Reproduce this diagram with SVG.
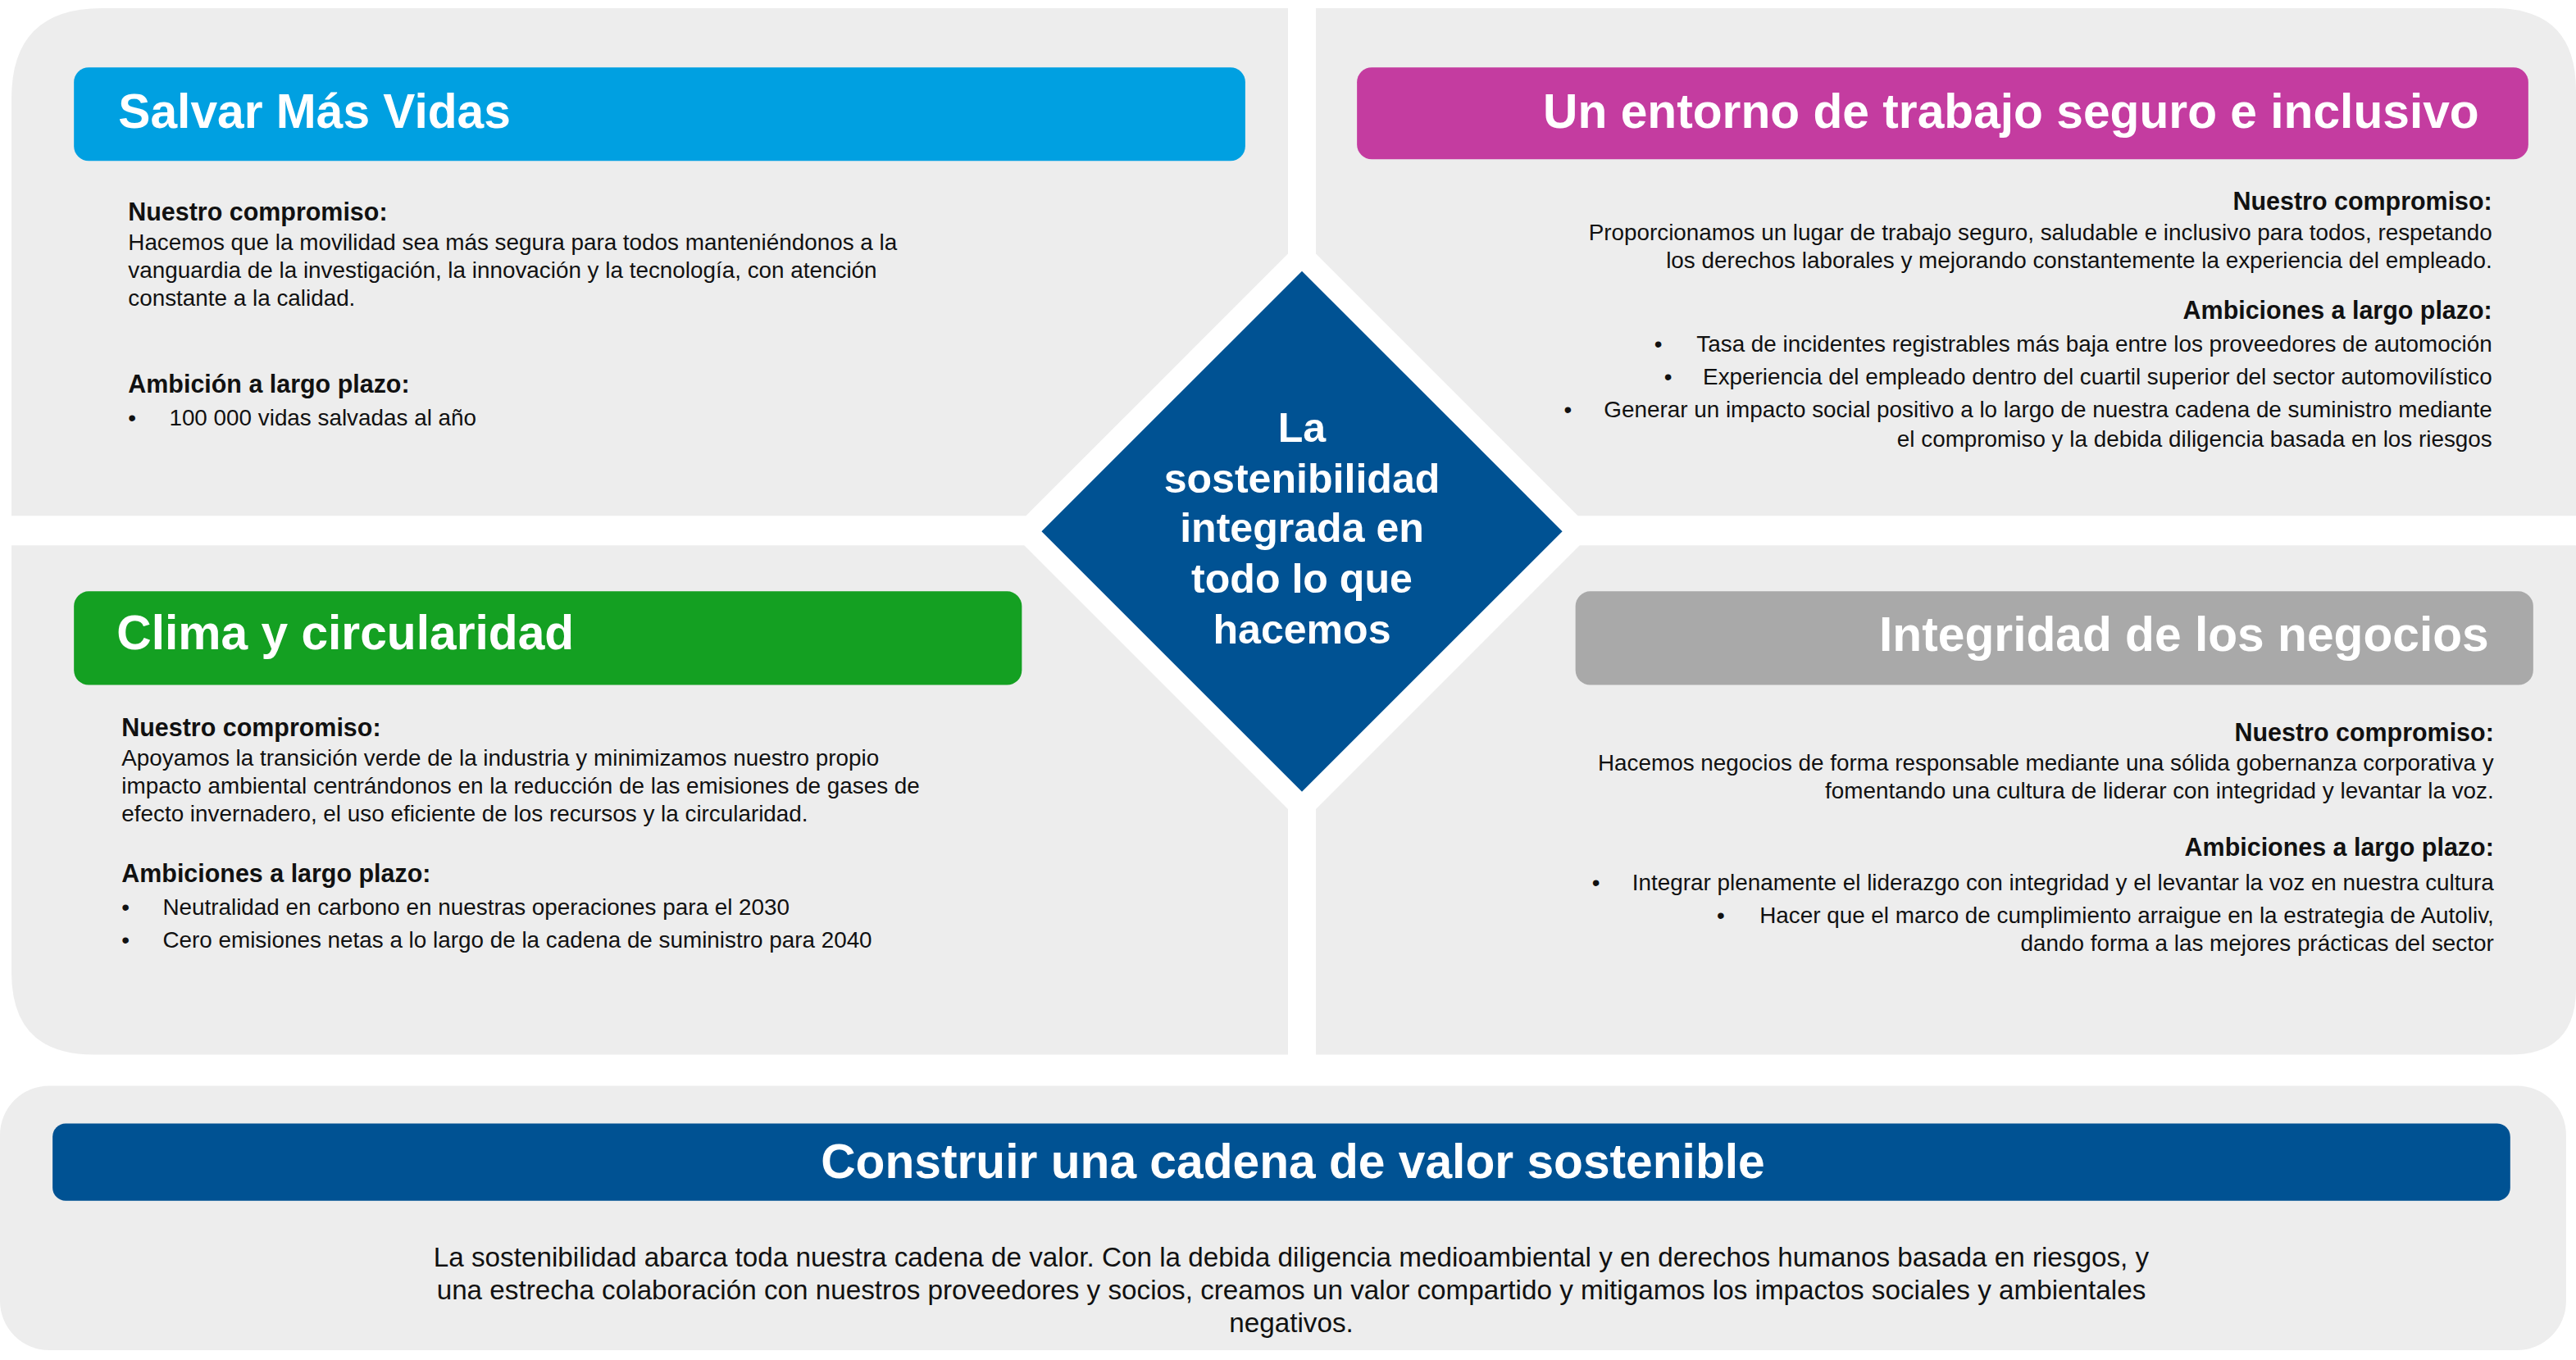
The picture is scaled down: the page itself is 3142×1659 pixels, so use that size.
<svg xmlns="http://www.w3.org/2000/svg" width="3142" height="1659" viewBox="0 0 3142 1659">
<style>
text{font-family:"Liberation Sans",Arial,sans-serif;}
.panel{fill:#ededed;}
.h{font-size:29.3px;font-weight:bold;fill:#fff;}
.b{font-size:13.9px;fill:#111;}
.bb{font-size:15.2px;font-weight:bold;fill:#111;}
.r{text-anchor:end;}
.c{font-size:25px;font-weight:bold;fill:#fff;text-anchor:middle;}
</style>
<rect width="3142" height="1659" fill="#fff"/>
<g transform="scale(2.0038)">
<g id="panels">
<path class="panel" d="M7,60 Q7,5 62,5 H784 V314 H7 Z"/>
<path class="panel" d="M801,5 H1518 Q1568,5 1568,55 V314 H801 Z"/>
<path class="panel" d="M7,332 H784 V642 H57 Q7,642 7,592 Z"/>
<path class="panel" d="M801,332 H1568 V602 Q1568,642 1528,642 H801 Z"/>
<polygon fill="#fff" points="792.5,146 970,323.5 792.5,501 615,323.5"/>
</g>
<g id="center">
<polygon fill="#005293" points="792.5,165 951,323.5 792.5,482 634,323.5"/>
<text class="c" x="792.5" y="269">La</text>
<text class="c" x="792.5" y="300">sostenibilidad</text>
<text class="c" x="792.5" y="330">integrada en</text>
<text class="c" x="792.5" y="361">todo lo que</text>
<text class="c" x="792.5" y="392">hacemos</text>
</g>
<g id="salvar">
<rect x="45" y="41" width="713" height="57" rx="9" fill="#00a0e1"/>
<text class="h" x="72" y="78">Salvar Más Vidas</text>
<text class="bb" x="78" y="134">Nuestro compromiso:</text>
<text class="b" x="78" y="152">Hacemos que la movilidad sea más segura para todos manteniéndonos a la</text>
<text class="b" x="78" y="169">vanguardia de la investigación, la innovación y la tecnología, con atención</text>
<text class="b" x="78" y="186">constante a la calidad.</text>
<text class="bb" x="78" y="239">Ambición a largo plazo:</text>
<text class="b" x="78" y="259">•</text>
<text class="b" x="103" y="259">100 000 vidas salvadas al año</text>
</g>
<g id="entorno">
<rect x="826" y="41" width="713" height="56" rx="9" fill="#c43ca0"/>
<text class="h r" x="1509" y="78">Un entorno de trabajo seguro e inclusivo</text>
<text class="bb r" x="1517" y="128">Nuestro compromiso:</text>
<text class="b r" x="1517" y="146">Proporcionamos un lugar de trabajo seguro, saludable e inclusivo para todos, respetando</text>
<text class="b r" x="1517" y="163">los derechos laborales y mejorando constantemente la experiencia del empleado.</text>
<text class="bb r" x="1517" y="194">Ambiciones a largo plazo:</text>
<text class="b" x="1007" y="214">•</text>
<text class="b r" x="1517" y="214">Tasa de incidentes registrables más baja entre los proveedores de automoción</text>
<text class="b" x="1013" y="234">•</text>
<text class="b r" x="1517" y="234">Experiencia del empleado dentro del cuartil superior del sector automovilístico</text>
<text class="b" x="952" y="254">•</text>
<text class="b r" x="1517" y="254">Generar un impacto social positivo a lo largo de nuestra cadena de suministro mediante</text>
<text class="b r" x="1517" y="272">el compromiso y la debida diligencia basada en los riesgos</text>
</g>
<g id="clima">
<rect x="45" y="360" width="577" height="57" rx="9" fill="#14a022"/>
<text class="h" x="71" y="395">Clima y circularidad</text>
<text class="bb" x="74" y="448">Nuestro compromiso:</text>
<text class="b" x="74" y="466">Apoyamos la transición verde de la industria y minimizamos nuestro propio</text>
<text class="b" x="74" y="483">impacto ambiental centrándonos en la reducción de las emisiones de gases de</text>
<text class="b" x="74" y="500">efecto invernadero, el uso eficiente de los recursos y la circularidad.</text>
<text class="bb" x="74" y="537">Ambiciones a largo plazo:</text>
<text class="b" x="74" y="557">•</text>
<text class="b" x="99" y="557">Neutralidad en carbono en nuestras operaciones para el 2030</text>
<text class="b" x="74" y="577">•</text>
<text class="b" x="99" y="577">Cero emisiones netas a lo largo de la cadena de suministro para 2040</text>
</g>
<g id="integridad">
<rect x="959" y="360" width="583" height="57" rx="9" fill="#a9a9a9"/>
<text class="h r" x="1515" y="396">Integridad de los negocios</text>
<text class="bb r" x="1518" y="451">Nuestro compromiso:</text>
<text class="b r" x="1518" y="469">Hacemos negocios de forma responsable mediante una sólida gobernanza corporativa y</text>
<text class="b r" x="1518" y="486">fomentando una cultura de liderar con integridad y levantar la voz.</text>
<text class="bb r" x="1518" y="521">Ambiciones a largo plazo:</text>
<text class="b" x="969" y="542">•</text>
<text class="b r" x="1518" y="542">Integrar plenamente el liderazgo con integridad y el levantar la voz en nuestra cultura</text>
<text class="b" x="1045" y="562">•</text>
<text class="b r" x="1518" y="562">Hacer que el marco de cumplimiento arraigue en la estrategia de Autoliv,</text>
<text class="b r" x="1518" y="579">dando forma a las mejores prácticas del sector</text>
</g>
<g id="cadena">
<rect class="panel" x="0" y="661" width="1562" height="161" rx="30"/>
<rect x="32" y="684" width="1496" height="47" rx="8" fill="#005293"/>
<text class="h" x="787" y="717" text-anchor="middle">Construir una cadena de valor sostenible</text>
<text class="b" x="786" y="771" text-anchor="middle" style="font-size:16.6px">La sostenibilidad abarca toda nuestra cadena de valor. Con la debida diligencia medioambiental y en derechos humanos basada en riesgos, y</text>
<text class="b" x="786" y="791" text-anchor="middle" style="font-size:16.6px">una estrecha colaboración con nuestros proveedores y socios, creamos un valor compartido y mitigamos los impactos sociales y ambientales</text>
<text class="b" x="786" y="811" text-anchor="middle" style="font-size:16.6px">negativos.</text>
</g>
<g id="connectors"/>
</g>
</svg>
